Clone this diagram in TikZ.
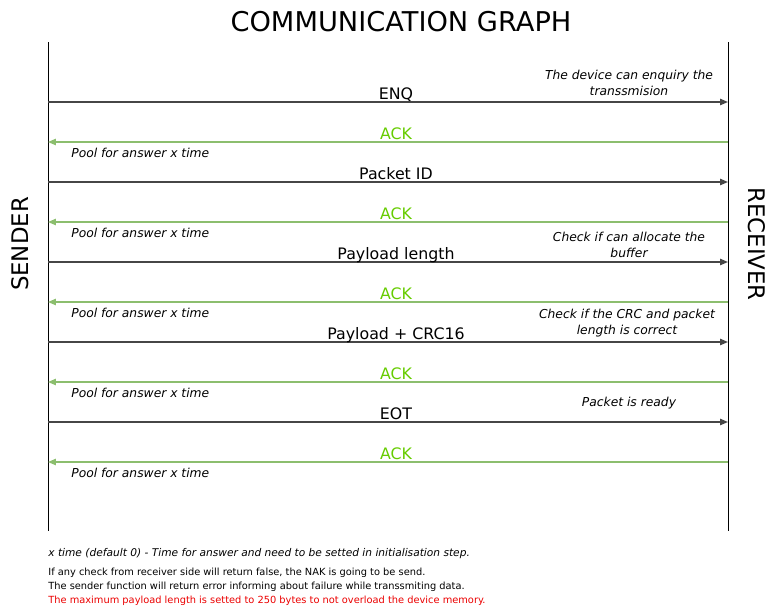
\documentclass[tikz,border=0pt]{standalone}
\usepackage{fontspec}
\setmainfont{DejaVu Sans}
\usetikzlibrary{arrows.meta,positioning}
\definecolor{msggray}{RGB}{70,70,70}
\definecolor{ackline}{RGB}{140,190,110}
\definecolor{acktext}{RGB}{102,204,0}
\definecolor{noteRed}{RGB}{235,0,0}

\begin{document}
\begin{tikzpicture}[x=0.02cm, y=-0.02cm,
    lifeline/.style={draw=black, line width=0.5pt},
    msg/.style={draw=msggray, line width=0.8pt, -{Triangle[length=4.5pt,width=3.6pt]}},
    ack/.style={draw=ackline, line width=0.8pt, -{Triangle[length=4.5pt,width=3.6pt]}},
    msglabel/.style={font=\fontsize{9}{10}\selectfont, anchor=base, inner sep=0pt},
    acklabel/.style={msglabel, text=acktext},
    pool/.style={font=\itshape\fontsize{7}{8}\selectfont, anchor=base west, inner sep=0pt},
    remark/.style={font=\itshape\fontsize{7}{8.8}\selectfont, align=center, inner sep=0pt},
    side/.style={font=\fontsize{13}{14}\selectfont, inner sep=0pt},
    note/.style={font=\fontsize{5.6}{7}\selectfont, anchor=base west, inner sep=0pt}
]
\useasboundingbox (0,0) rectangle (778,609);

% Title and sides
\node[font=\fontsize{15.5}{17}\selectfont, inner sep=0pt] (title) at (401,22) {COMMUNICATION GRAPH};
\node[side, rotate=90] (sender) at (20,244) {SENDER};
\node[side, rotate=-90] (receiver) at (757,244) {RECEIVER};

% Lifelines
\coordinate (stop) at (48,42);
\coordinate (sbot) at (48,531);
\coordinate (rtop) at (728,42);
\coordinate (rbot) at (728,531);
\draw[lifeline] (stop) -- (sbot);
\draw[lifeline] (rtop) -- (rbot);

% ENQ
\coordinate (s1) at (48,102);
\coordinate (r1) at (728,102);
\draw[msg] (s1) -- (r1);
\node[msglabel] (enq) at (396,99) {ENQ};
\node[remark] (c1) at (629,83) {The device can enquiry the\\transsmision};
\coordinate (s2) at (48,142);
\coordinate (r2) at (728,142);
\draw[ack] (r2) -- (s2);
\node[acklabel] (ack1) at (396,139) {ACK};
\node[pool] (p1) at (71,157) {Pool for answer x time};

% Packet ID
\coordinate (s3) at (48,182);
\coordinate (r3) at (728,182);
\draw[msg] (s3) -- (r3);
\node[msglabel] (pid) at (396,179) {Packet ID};
\coordinate (s4) at (48,222);
\coordinate (r4) at (728,222);
\draw[ack] (r4) -- (s4);
\node[acklabel] (ack2) at (396,219) {ACK};
\node[pool] (p2) at (71,237) {Pool for answer x time};

% Payload length
\coordinate (s5) at (48,262);
\coordinate (r5) at (728,262);
\draw[msg] (s5) -- (r5);
\node[msglabel] (plen) at (396,259) {Payload length};
\node[remark] (c2) at (629,245) {Check if can allocate the\\buffer};
\coordinate (s6) at (48,302);
\coordinate (r6) at (728,302);
\draw[ack] (r6) -- (s6);
\node[acklabel] (ack3) at (396,299) {ACK};
\node[pool] (p3) at (71,317) {Pool for answer x time};

% Payload + CRC16
\coordinate (s7) at (48,342);
\coordinate (r7) at (728,342);
\draw[msg] (s7) -- (r7);
\node[msglabel] (pcrc) at (396,339) {Payload + CRC16};
\node[remark] (c3) at (627,323) {Check if the CRC and packet\\length is correct};
\coordinate (s8) at (48,382);
\coordinate (r8) at (728,382);
\draw[ack] (r8) -- (s8);
\node[acklabel] (ack4) at (396,379) {ACK};
\node[pool] (p4) at (71,397) {Pool for answer x time};

% EOT
\coordinate (s9) at (48,422);
\coordinate (r9) at (728,422);
\draw[msg] (s9) -- (r9);
\node[msglabel] (eot) at (396,419) {EOT};
\node[remark] (c4) at (629,403) {Packet is ready};
\coordinate (s10) at (48,462);
\coordinate (r10) at (728,462);
\draw[ack] (r10) -- (s10);
\node[acklabel] (ack5) at (396,459) {ACK};
\node[pool] (p5) at (71,477) {Pool for answer x time};

% Notes
\node[note, font=\itshape\fontsize{6.05}{7}\selectfont] (n1) at (48,556) {x time (default 0) - Time for answer and need to be setted in initialisation step.};
\node[note] (n2) at (48,575) {If any check from receiver side will return false, the NAK is going to be send.};
\node[note] (n3) at (48,589) {The sender function will return error informing about failure while transsmiting data.};
\node[note, text=noteRed] (n4) at (48,603) {The maximum payload length is setted to 250 bytes to not overload the device memory.};

\end{tikzpicture}
\end{document}
